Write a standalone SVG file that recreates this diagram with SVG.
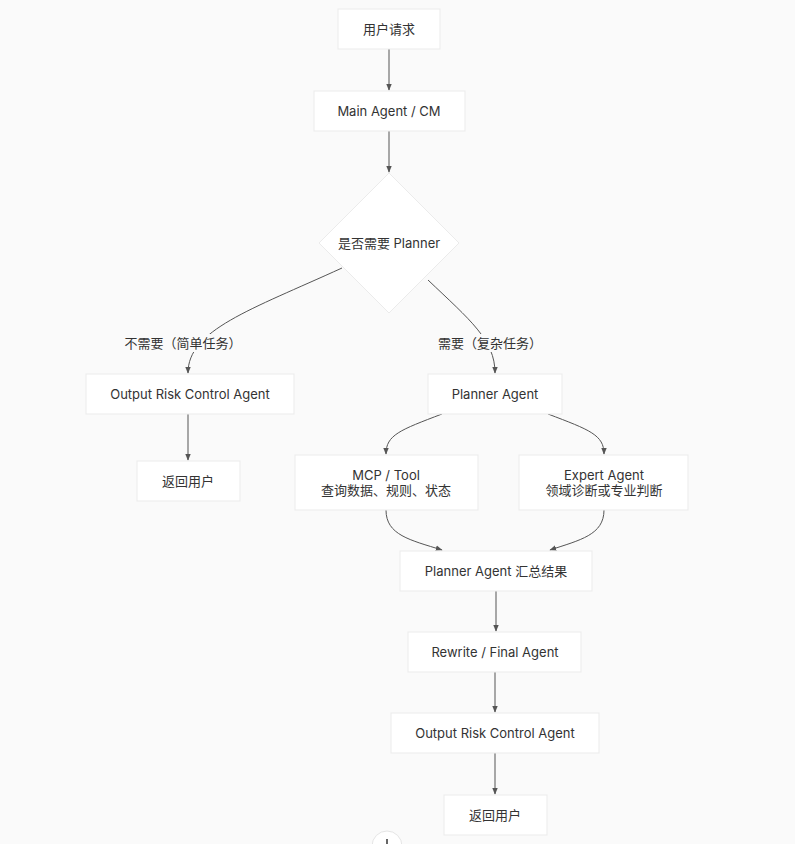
<svg xmlns="http://www.w3.org/2000/svg" width="795" height="844" viewBox="0 0 795 844">
<style>
.n{fill:#fff;stroke:#ebebeb;stroke-width:1}
.t{font-family:Inter,"Noto Sans CJK SC",sans-serif;font-size:13px;fill:#333;text-anchor:middle;dominant-baseline:central}
.e{fill:none;stroke:#555;stroke-width:1}
.lb{fill:#fafafa}
</style>
<defs><marker id="a" viewBox="0 0 10 10" refX="9" refY="5" markerWidth="7" markerHeight="7" orient="auto"><path d="M0,1 L10,5 L0,9 z" fill="#555"/></marker></defs>
<rect width="795" height="844" fill="#fafafa"/>
<g id="connectors">
<path class="e" marker-end="url(#a)" d="M389,49 V90"/>
<path class="e" marker-end="url(#a)" d="M389,131 V172"/>
<path class="e" marker-end="url(#a)" d="M342,268 C250,310 188,330 188,373"/>
<path class="e" marker-end="url(#a)" d="M428,280 C470,320 495,340 495,373"/>
<path class="e" marker-end="url(#a)" d="M188,414 V460"/>
<path class="e" marker-end="url(#a)" d="M442,414 C400,430 386,435 386,454"/>
<path class="e" marker-end="url(#a)" d="M548,414 C590,430 604,435 604,454"/>
<path class="e" marker-end="url(#a)" d="M386,510 C386,535 410,540 442,550"/>
<path class="e" marker-end="url(#a)" d="M604,510 C604,535 580,540 550,550"/>
<path class="e" marker-end="url(#a)" d="M496,591 V631"/>
<path class="e" marker-end="url(#a)" d="M495,672 V712"/>
<path class="e" marker-end="url(#a)" d="M495,753 V794"/>
<rect class="lb" x="124" y="334" width="118" height="18"/>
<text class="t" x="183" y="343">不需要（简单任务）</text>
<rect class="lb" x="440" y="334" width="108" height="18"/>
<text class="t" x="490" y="343">需要（复杂任务）</text>
</g>
<g id="n1"><rect class="n" x="338" y="9" width="102" height="40"/><text class="t" x="389" y="29">用户请求</text></g>
<g id="n2"><rect class="n" x="314" y="91" width="151" height="40"/><text class="t" x="389" y="111">Main Agent / CM</text></g>
<g id="n3"><path class="n" d="M389,173 L459,243 L389,313 L319,243 Z"/><text class="t" x="389" y="243">是否需要 Planner</text></g>
<g id="n4"><rect class="n" x="86" y="374" width="208" height="40"/><text class="t" x="190" y="394">Output Risk Control Agent</text></g>
<g id="n5"><rect class="n" x="137" y="461" width="103" height="40"/><text class="t" x="188" y="481">返回用户</text></g>
<g id="n6"><rect class="n" x="428" y="374" width="134" height="40"/><text class="t" x="495" y="394">Planner Agent</text></g>
<g id="n7"><rect class="n" x="295" y="455" width="183" height="55"/><text class="t" x="386" y="475">MCP / Tool</text><text class="t" x="386" y="490">查询数据、规则、状态</text></g>
<g id="n8"><rect class="n" x="519" y="455" width="169" height="55"/><text class="t" x="604" y="475">Expert Agent</text><text class="t" x="604" y="490">领域诊断或专业判断</text></g>
<g id="n9"><rect class="n" x="400" y="551" width="192" height="40"/><text class="t" x="496" y="571">Planner Agent 汇总结果</text></g>
<g id="n10"><rect class="n" x="408" y="632" width="173" height="40"/><text class="t" x="495" y="652">Rewrite / Final Agent</text></g>
<g id="n11"><rect class="n" x="391" y="713" width="208" height="40"/><text class="t" x="495" y="733">Output Risk Control Agent</text></g>
<g id="n12"><rect class="n" x="444" y="795" width="103" height="40"/><text class="t" x="495" y="815">返回用户</text></g>
<circle cx="387" cy="846" r="15" fill="#fff" stroke="#e5e5e5"/>
<path d="M387,839 V844" stroke="#333" stroke-width="1.5"/>
</svg>
